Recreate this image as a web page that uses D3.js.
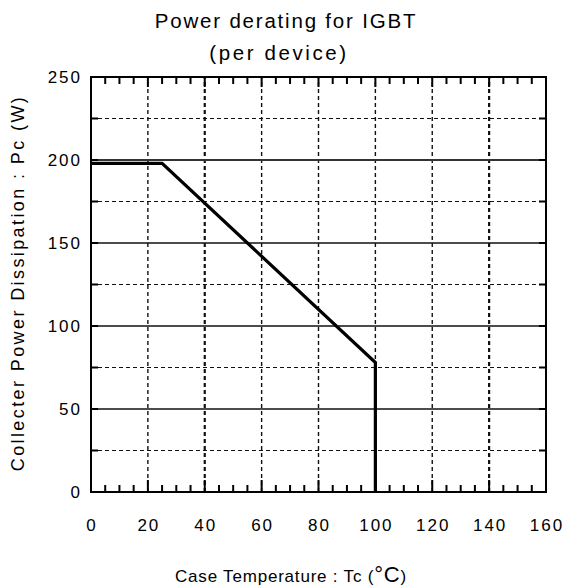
<!DOCTYPE html>
<html>
<head>
<meta charset="utf-8">
<script src="https://cdn.jsdelivr.net/npm/d3@7"></script>
<style>
  body { margin: 0; background: #fff; }
  text { font-family: "Liberation Sans", Arial, sans-serif; fill: #000; }
</style>
</head>
<body>
<svg width="565" height="587"></svg>
<script>
// data
var tempC = [0, 25, 100, 100];
var powerW = [198, 198, 78, 0];
var xTicks = [0, 20, 40, 60, 80, 100, 120, 140, 160];
var yTicks = [0, 50, 100, 150, 200, 250];
var yDashed = [25, 75, 125, 175, 225];
var xGrid = [20, 40, 60, 80, 100, 120, 140];
var ratedLine = 200;

var svg = d3.select("svg");

var x = d3.scaleLinear().domain([0, 160]).range([91, 546]);
var y = d3.scaleLinear().domain([0, 250]).range([492, 77]);

// grid
var g = svg.append("g");

g.selectAll(".hd")
  .data(yDashed).enter().append("line")
    .attr("x1", x(0)).attr("x2", x(160))
    .attr("y1", d => y(d)).attr("y2", d => y(d))
    .attr("stroke", "#111").attr("stroke-width", 1.2)
    .attr("stroke-dasharray", "4,3");

g.selectAll(".hs")
  .data([50, 100, 150]).enter().append("line")
    .attr("x1", x(0)).attr("x2", x(160))
    .attr("y1", d => y(d)).attr("y2", d => y(d))
    .attr("stroke", "#111").attr("stroke-width", 1.3);

g.selectAll(".vd")
  .data(xGrid).enter().append("line")
    .attr("x1", d => x(d)).attr("x2", d => x(d))
    .attr("y1", y(0)).attr("y2", y(250))
    .attr("stroke", "#111").attr("stroke-width", d => (d == 40 || d == 140) ? 2.2 : 1.4)
    .attr("stroke-dasharray", "4,3");

g.append("line")
  .attr("x1", x(0)).attr("x2", x(160))
  .attr("y1", y(ratedLine)).attr("y2", y(ratedLine))
  .attr("stroke", "#333").attr("stroke-width", 2);

// minor ticks
var minorX = d3.range(0, 161, 5);
var minorY = d3.range(0, 251, 25);

g.selectAll(".tb")
  .data(minorX).enter().append("line")
    .attr("x1", d => x(d)).attr("x2", d => x(d))
    .attr("y1", y(0)).attr("y2", d => y(0) - (d % 20 == 0 ? 12 : 7))
    .attr("stroke", "#000").attr("stroke-width", 2);

g.selectAll(".tt")
  .data(minorX).enter().append("line")
    .attr("x1", d => x(d)).attr("x2", d => x(d))
    .attr("y1", y(250)).attr("y2", d => y(250) + (d % 20 == 0 ? 10 : 7))
    .attr("stroke", "#000").attr("stroke-width", 2);

g.selectAll(".tl")
  .data(minorY).enter().append("line")
    .attr("x1", x(0)).attr("x2", x(0) + 7)
    .attr("y1", d => y(d)).attr("y2", d => y(d))
    .attr("stroke", "#000").attr("stroke-width", 2);

g.selectAll(".tr")
  .data(minorY).enter().append("line")
    .attr("x1", x(160)).attr("x2", x(160) - 7)
    .attr("y1", d => y(d)).attr("y2", d => y(d))
    .attr("stroke", "#000").attr("stroke-width", 2);

// frame
svg.append("rect")
  .attr("x", x(0)).attr("y", y(250))
  .attr("width", x(160) - x(0)).attr("height", y(0) - y(250))
  .attr("fill", "none").attr("stroke", "#000").attr("stroke-width", 2);

// curve
var line = d3.line()
  .x((d, i) => x(tempC[i]))
  .y((d, i) => y(powerW[i]));

svg.append("path")
  .datum(tempC)
  .attr("d", line)
  .attr("fill", "none")
  .attr("stroke", "#000")
  .attr("stroke-width", 3.2);

// tick labels
svg.selectAll(".xl")
  .data(xTicks).enter().append("text")
    .attr("x", d => x(d) + 1).attr("y", 531)
    .attr("text-anchor", "middle")
    .style("font-size", "17px")
    .style("letter-spacing", "2px")
    .text(d => d);

svg.selectAll(".yl")
  .data(yTicks).enter().append("text")
    .attr("x", 82).attr("y", d => y(d) + 6)
    .attr("text-anchor", "end")
    .style("font-size", "17px")
    .style("letter-spacing", "2px")
    .text(d => d);

// titles
svg.append("text")
  .attr("x", 286).attr("y", 28)
  .attr("text-anchor", "middle")
  .style("font-size", "20.5px")
  .style("letter-spacing", "1.8px")
  .text("Power derating for IGBT");

svg.append("text")
  .attr("x", 279).attr("y", 60)
  .attr("text-anchor", "middle")
  .style("font-size", "20.5px")
  .style("letter-spacing", "2.6px")
  .text("(per device)");

var xl = svg.append("text")
  .attr("x", 291).attr("y", 582)
  .attr("text-anchor", "middle")
  .style("font-size", "17px")
  .style("letter-spacing", "0.8px");
xl.append("tspan").text("Case Temperature : Tc (");
xl.append("tspan").style("font-size", "22px").text("°C");
xl.append("tspan").text(")");

svg.append("text")
  .attr("transform", "translate(24,283) rotate(-90)")
  .attr("text-anchor", "middle")
  .style("font-size", "18px")
  .style("letter-spacing", "2.4px")
  .text("Collecter Power Dissipation : Pc (W)");
</script>
</body>
</html>
